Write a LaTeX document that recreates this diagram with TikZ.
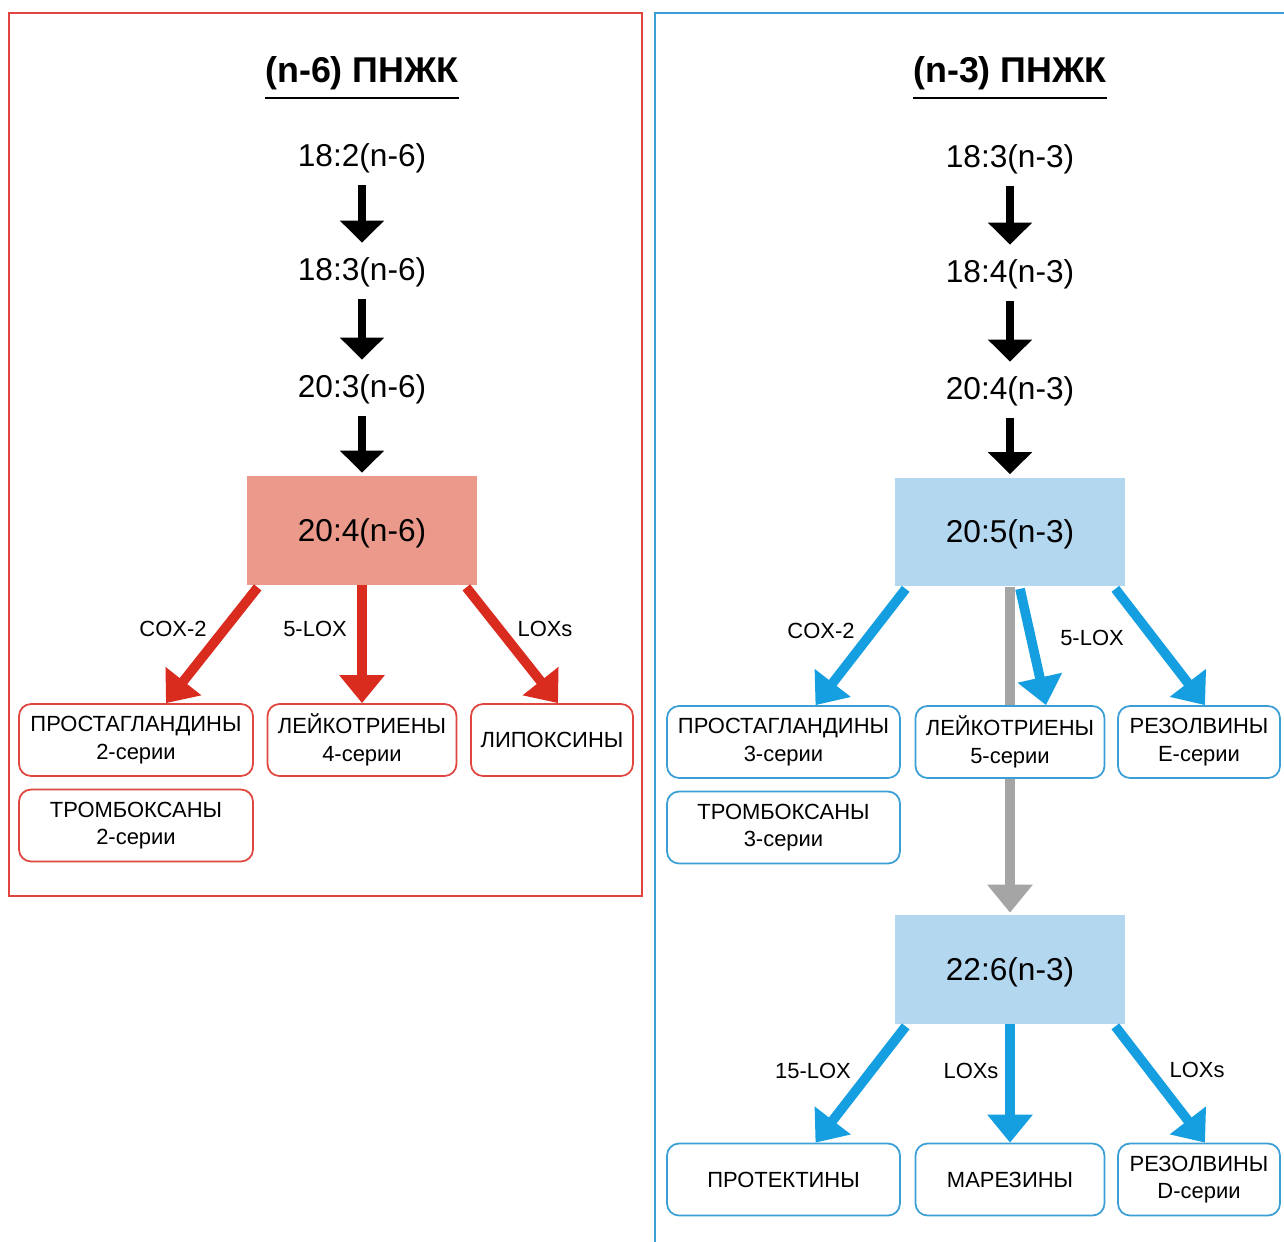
\documentclass[tikz,border=0pt]{standalone}
\usepackage{fontspec}
\setmainfont{Liberation Sans}
\usetikzlibrary{arrows.meta,calc}
\definecolor{omega6}{HTML}{E0463F}
\definecolor{omega6fill}{HTML}{EA998B}
\definecolor{omega6arrow}{HTML}{DA2B1F}
\definecolor{omega3}{HTML}{3B9FD5}
\definecolor{omega3fill}{HTML}{B4D7F0}
\definecolor{omega3arrow}{HTML}{169FE0}
\definecolor{pathgray}{HTML}{A5A5A5}

\begin{document}
\begin{tikzpicture}[x=0.02cm,y=-0.02cm,
  title/.style={font=\bfseries\fontsize{20.4}{24}\selectfont, inner xsep=0pt, inner ysep=4.5pt},
  acid/.style={font=\fontsize{18}{20}\selectfont, inner sep=0pt, minimum height=0.6cm},
  keyacid/.style={acid, text height=16pt, text depth=3.8pt, minimum width=4.6cm, minimum height=2.18cm},
  enzyme/.style={font=\fontsize{12.5}{15}\selectfont, inner sep=0pt},
  product/.style={font=\fontsize{12.5}{15.8}\selectfont, align=center, rounded corners=0.24cm, minimum height=1.44cm, fill=white, line width=1pt},
  stage/.style={-{Triangle[length=12.5pt,width=24.4pt]}, line width=5pt, shorten <=0.24cm, shorten >=0.28cm},
  route/.style={-{Triangle[length=16pt,width=25pt]}, line width=5.5pt}]
\useasboundingbox (0,0) rectangle (1284,1241);

\draw[omega6, line width=1.1pt] (9,13) rectangle (642,896);
\node[title] (t6) at (362,73) {(n-6) ПНЖК};
\draw[line width=1.1pt] (t6.south west) -- (t6.south east);
\node[acid] (a182) at (362,158) {18:2(n-6)};
\node[acid] (a183) at (362,272) {18:3(n-6)};
\node[acid] (a203) at (362,389) {20:3(n-6)};
\node[keyacid, fill=omega6fill] (a204) at (362,530.5) {20:4(n-6)};
\draw[stage] (a182) -- (a183);
\draw[stage] (a183) -- (a203);
\draw[stage, shorten >=0.06cm] (a203) -- (a204);
\node[product, draw=omega6, minimum width=4.68cm] (rpg) at (136,740) {ПРОСТАГЛАНДИНЫ\\2-серии};
\node[product, draw=omega6, minimum width=3.78cm] (rlt) at (362,740) {ЛЕЙКОТРИЕНЫ\\4-серии};
\node[product, draw=omega6, minimum width=3.24cm] (rlx) at (552,740) {ЛИПОКСИНЫ};
\node[product, draw=omega6, minimum width=4.68cm] (rtx) at (136,825.5) {ТРОМБОКСАНЫ\\2-серии};
\draw[route, omega6arrow] ($(a204.south west)+(11,2)$) -- ($(rpg.north)+(30,0)$);
\draw[route, omega6arrow] (a204.south) -- (rlt.north);
\draw[route, omega6arrow] ($(a204.south east)+(-11,2)$) -- ($(rlx.north)+(6,0)$);
\node[enzyme] (e6cox) at (173,629) {COX-2};
\node[enzyme] (e6lox) at (315,629) {5-LOX};
\node[enzyme] (e6loxs) at (545,629) {LOXs};

\draw[omega3, line width=1.1pt] (655,1250) |- (1290,13);
\node[title] (t3) at (1010,73) {(n-3) ПНЖК};
\draw[line width=1.1pt] (t3.south west) -- (t3.south east);
\node[acid] (b183) at (1010,159) {18:3(n-3)};
\node[acid] (b184) at (1010,274) {18:4(n-3)};
\node[acid] (b204) at (1010,391) {20:4(n-3)};
\node[keyacid, fill=omega3fill] (b205) at (1010,532) {20:5(n-3)};
\node[keyacid, fill=omega3fill] (b226) at (1010,969.5) {22:6(n-3)};
\draw[stage] (b183) -- (b184);
\draw[stage] (b184) -- (b204);
\draw[stage, shorten >=0.06cm] (b204) -- (b205);
\draw[route, pathgray, shorten >=0.04cm] (b205.south) -- (b226.north);
\node[product, draw=omega3, minimum width=4.66cm] (bpg) at (783.5,742) {ПРОСТАГЛАНДИНЫ\\3-серии};
\node[product, draw=omega3, minimum width=3.78cm] (blt) at (1010,742) {ЛЕЙКОТРИЕНЫ\\5-серии};
\node[product, draw=omega3, minimum width=3.24cm] (brve) at (1199,742) {РЕЗОЛВИНЫ\\E-серии};
\node[product, draw=omega3, minimum width=4.66cm] (btx) at (783.5,827.5) {ТРОМБОКСАНЫ\\3-серии};
\node[product, draw=omega3, minimum width=4.66cm] (bpd) at (783.5,1179.5) {ПРОТЕКТИНЫ};
\node[product, draw=omega3, minimum width=3.78cm] (bmar) at (1010,1179.5) {МАРЕЗИНЫ};
\node[product, draw=omega3, minimum width=3.24cm] (brvd) at (1199,1179.5) {РЕЗОЛВИНЫ\\D-серии};
\draw[route, omega3arrow] ($(b205.south west)+(11,2)$) -- ($(bpg.north)+(32,0)$);
\draw[route, omega3arrow] ($(b205.south)+(10,2)$) -- ($(blt.north)+(36,0)$);
\draw[route, omega3arrow] ($(b205.south east)+(-10,2)$) -- ($(brve.north)+(6,0)$);
\draw[route, omega3arrow] ($(b226.south west)+(11,2)$) -- ($(bpd.north)+(32,0)$);
\draw[route, omega3arrow] (b226.south) -- (bmar.north);
\draw[route, omega3arrow] ($(b226.south east)+(-10,2)$) -- ($(brvd.north)+(6,0)$);
\node[enzyme] (e3cox) at (821,631) {COX-2};
\node[enzyme] (e3lox) at (1092,638) {5-LOX};
\node[enzyme] (e3lox15) at (813,1071) {15-LOX};
\node[enzyme] (e3loxs) at (971,1071) {LOXs};
\node[enzyme] (e3loxsb) at (1197,1070) {LOXs};
\end{tikzpicture}
\end{document}
